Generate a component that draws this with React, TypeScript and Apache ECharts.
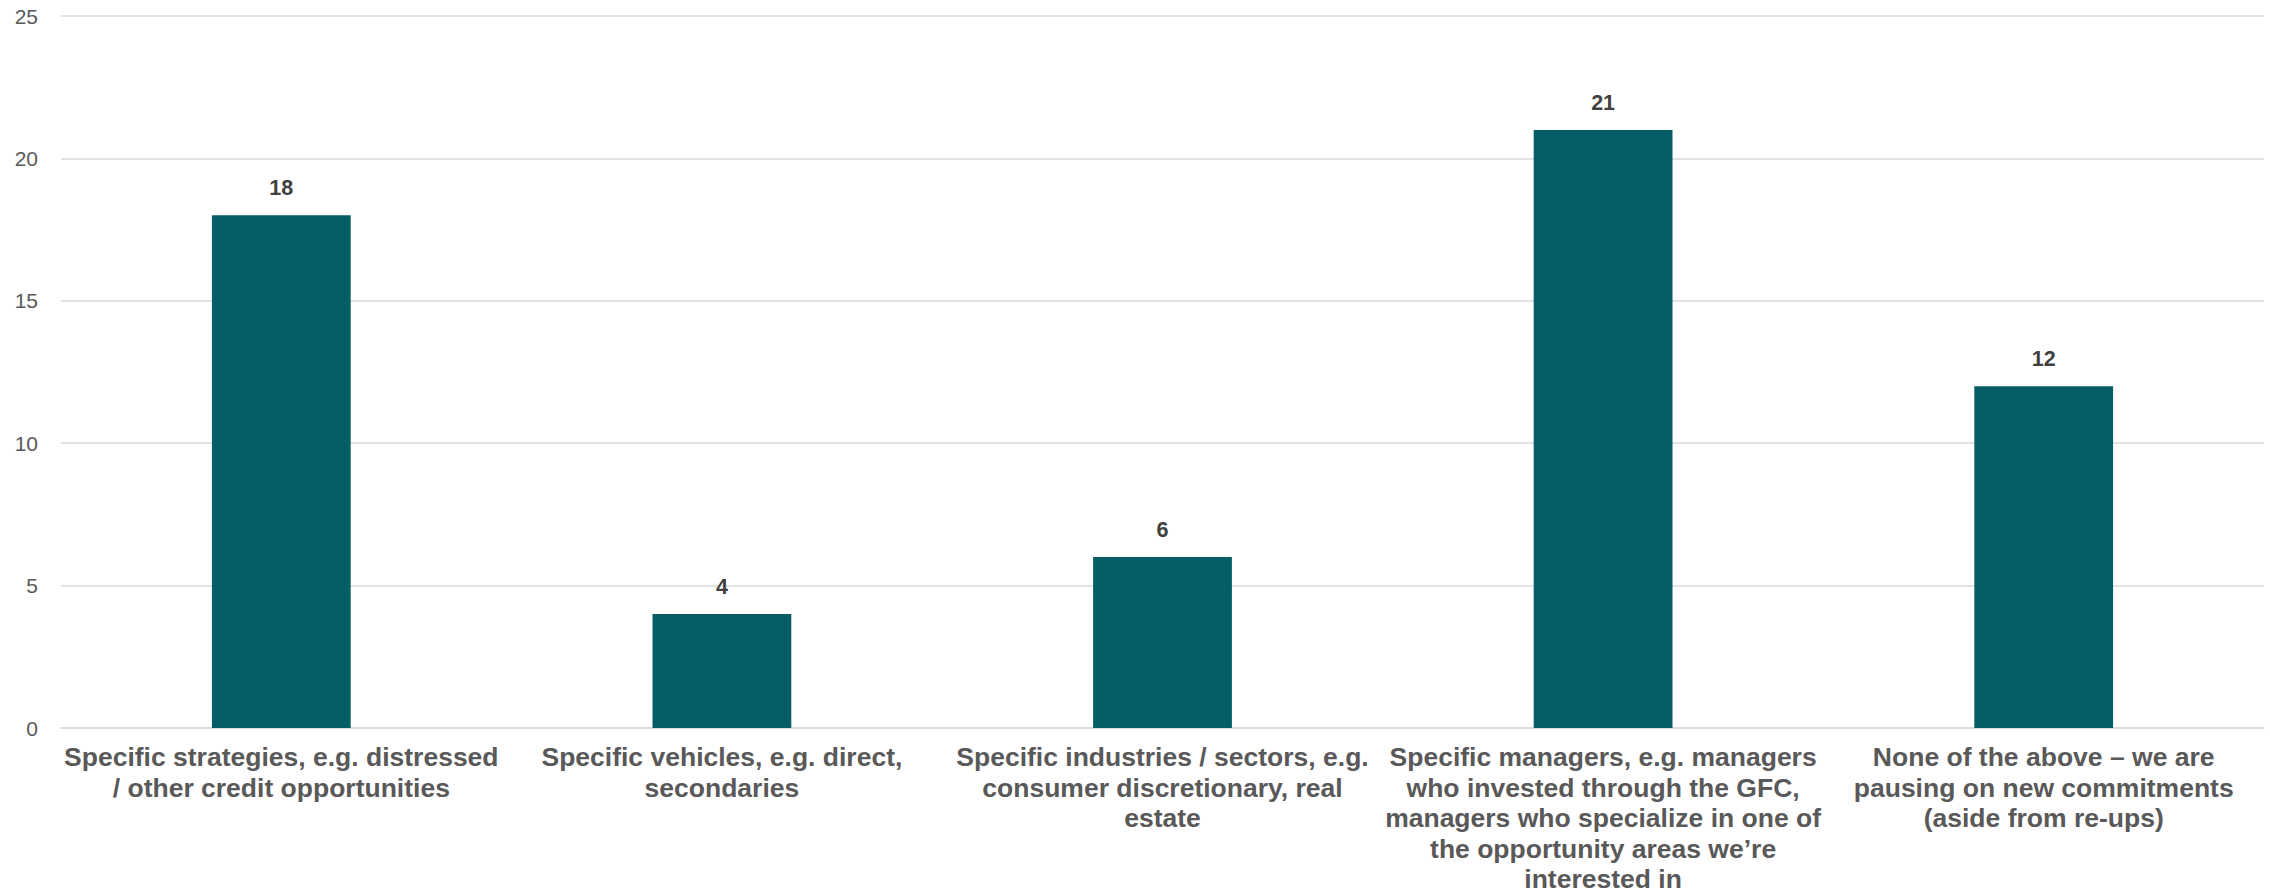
import React, { useEffect, useRef } from "react";
import * as echarts from "echarts";

// Survey answer categories (line breaks as laid out under each bar)
const categories: string[] = [
  "Specific strategies, e.g. distressed\n/ other credit opportunities",
  "Specific vehicles, e.g. direct,\nsecondaries",
  "Specific industries / sectors, e.g.\nconsumer discretionary, real\nestate",
  "Specific managers, e.g. managers\nwho invested through the GFC,\nmanagers who specialize in one of\nthe opportunity areas we’re\ninterested in",
  "None of the above – we are\npausing on new commitments\n(aside from re-ups)",
];

// Number of respondents per category
const responses: number[] = [18, 4, 6, 21, 12];

// Value axis range
const yMin = 0;
const yMax = 25;
const yStep = 5;

export default function App() {
  const ref = useRef<HTMLDivElement>(null);

  useEffect(() => {
    if (!ref.current) return;
    const chart = echarts.init(ref.current, undefined, { renderer: "svg" });
    chart.setOption({
      animation: false,
      backgroundColor: "#ffffff",
      grid: {
        left: 61,
        right: 6,
        top: 16,
        bottom: 168,
        containLabel: false,
        outerBoundsMode: "none",
      },
      xAxis: {
        type: "category",
        data: categories,
        axisLine: { show: true, lineStyle: { color: "#d9d9d9", width: 1.5 } },
        axisTick: { show: false },
        axisLabel: {
          interval: 0,
          margin: 14,
          color: "#595959",
          fontFamily: "Liberation Sans, Arial, sans-serif",
          fontWeight: "bold",
          fontSize: 26.5,
          lineHeight: 30.5,
          align: "center",
        },
      },
      yAxis: {
        type: "value",
        min: yMin,
        max: yMax,
        interval: yStep,
        axisLine: { show: false },
        axisTick: { show: false },
        splitLine: { lineStyle: { color: "#d9d9d9", width: 1.5 } },
        axisLabel: {
          margin: 23,
          color: "#595959",
          fontFamily: "Liberation Sans, Arial, sans-serif",
          fontSize: 21,
        },
      },
      series: [
        {
          type: "bar",
          data: responses,
          barWidth: "31.5%",
          itemStyle: { color: "#055e66" },
          label: {
            show: true,
            position: "top",
            distance: 16,
            color: "#404040",
            fontFamily: "Liberation Sans, Arial, sans-serif",
            fontWeight: "bold",
            fontSize: 21.5,
          },
        },
      ],
    });
    return () => chart.dispose();
  }, []);

  return (
    <div
      ref={ref}
      style={{ position: "fixed", left: 0, top: 0, width: 2270, height: 896 }}
    />
  );
}
